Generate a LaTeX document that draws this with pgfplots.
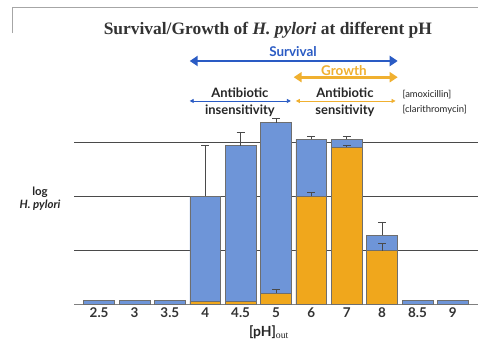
\documentclass[border=0pt]{standalone}
\usepackage{pgfplots}
\pgfplotsset{compat=1.18}
\usepackage{fontspec}
\setmainfont{Liberation Serif}
\newfontfamily\lab{Lato}
\usetikzlibrary{arrows.meta}
\definecolor{barblue}{HTML}{6E95D8}
\definecolor{barorange}{HTML}{F0A71C}
\definecolor{arrblue}{HTML}{2A5BC4}
\definecolor{arrorange}{HTML}{F0B030}
\definecolor{gridgray}{HTML}{4A4A4A}
\begin{document}
\begin{tikzpicture}[x=1bp,y=1bp]
\useasboundingbox (0,0) rectangle (500,351);
\fill[white] (0,0) rectangle (500,351);
\draw[gray!70, line width=0.8bp] (12,318) -- (12,344) -- (478,344);
\begin{axis}[
  at={(74bp,47bp)}, anchor=south west,
  scale only axis, width=404bp, height=297bp,
  xmin=-0.71, xmax=10.71, ymin=0, ymax=5.5,
  clip=false,
  axis x line*=bottom, axis y line*=left,
  x axis line style={gridgray!70, line width=0.8bp, -},
  y axis line style={draw=none},
  xtick={0,...,10},
  xticklabels={2.5,3,3.5,4,4.5,5,6,7,8,8.5,9},
  xticklabel style={font=\lab\bfseries\fontsize{13.5}{14}\selectfont, text=black!80, yshift=0bp},
  major tick length=0pt,
  ytick={1,2,3}, yticklabels={}, ymajorgrids,
  grid style={gridgray, line width=0.8bp},
  ybar, bar width=0.87, bar shift=0pt,
  error bars/error bar style={gridgray, line width=0.7bp},
  error bars/error mark options={rotate=90, mark size=4bp, gridgray, line width=0.7bp},
]
\addplot[fill=barblue, draw=gridgray!80, line width=0.6bp,
  error bars/.cd, y dir=plus, y explicit]
  coordinates {
  (0,0.07) (1,0.07) (2,0.07)
  (3,2.0) +- (0,0.93)
  (4,2.93) +- (0,0.25)
  (5,3.36) +- (0,0.07)
  (6,3.05) +- (0,0.05)
  (7,3.05) +- (0,0.06)
  (8,1.27) +- (0,0.25)
  (9,0.06) (10,0.06)};
\addplot[fill=barorange, draw=gridgray!80, line width=0.6bp]
  coordinates {(3,0.05) (4,0.05)};
\addplot[fill=barorange, draw=gridgray!80, line width=0.6bp,
  error bars/.cd, y dir=plus, y explicit]
  coordinates {
  (5,0.2) +- (0,0.07)
  (6,2.0) +- (0,0.07)
  (7,2.9) +- (0,0.04)
  (8,0.99) +- (0,0.13)};
% annotations
\node[font=\bfseries\fontsize{17.5}{19}\selectfont, text=black!80] at (axis cs:4.77,5.07) {Survival/Growth of \textit{H. pylori} at different pH};
\node[font=\lab\bfseries\fontsize{13.5}{14}\selectfont, text=arrblue] at (axis cs:5.48,4.67) {Survival};
\draw[arrblue, line width=2.8bp, {Triangle[length=8bp,width=10bp]}-{Triangle[length=8bp,width=10bp]}] (axis cs:2.56,4.5) -- (axis cs:8.44,4.5);
\node[font=\lab\bfseries\fontsize{13.5}{14}\selectfont, text=arrorange] at (axis cs:6.92,4.33) {Growth};
\draw[arrorange, line width=2.8bp, {Triangle[length=8bp,width=10bp]}-{Triangle[length=8bp,width=10bp]}] (axis cs:5.5,4.2) -- (axis cs:8.44,4.2);
\draw[arrblue, line width=0.8bp, {Triangle[length=4bp,width=4bp]}-{Triangle[length=4bp,width=4bp]}] (axis cs:2.56,3.76) -- (axis cs:5.42,3.76);
\draw[arrorange, line width=0.8bp, {Triangle[length=4bp,width=4bp]}-{Triangle[length=4bp,width=4bp]}] (axis cs:5.56,3.76) -- (axis cs:8.38,3.76);
\node[font=\lab\bfseries\fontsize{13}{14}\selectfont, text=black!85] at (axis cs:3.98,3.92) {Antibiotic};
\node[font=\lab\bfseries\fontsize{13}{14}\selectfont, text=black!85] at (axis cs:3.98,3.58) {insensitivity};
\node[font=\lab\bfseries\fontsize{13}{14}\selectfont, text=black!85] at (axis cs:6.95,3.92) {Antibiotic};
\node[font=\lab\bfseries\fontsize{13}{14}\selectfont, text=black!85] at (axis cs:6.95,3.58) {sensitivity};
\node[font=\lab\fontsize{9.5}{10}\selectfont, text=black!85, anchor=west] at (axis cs:8.48,3.88) {[amoxicillin]};
\node[font=\lab\fontsize{9.5}{10}\selectfont, text=black!85, anchor=west] at (axis cs:8.48,3.6) {[clarithromycin]};
\node[font=\lab\bfseries\fontsize{11.5}{12.5}\selectfont, text=black!85, align=center] at (axis cs:-1.67,1.95) {log\\\textit{H. pylori}};
\node[font=\lab\bfseries\fontsize{14}{15}\selectfont, text=black!85] at (axis cs:4.8,-0.52) {[pH]$_{\mathrm{out}}$};
\end{axis}
\end{tikzpicture}
\end{document}
